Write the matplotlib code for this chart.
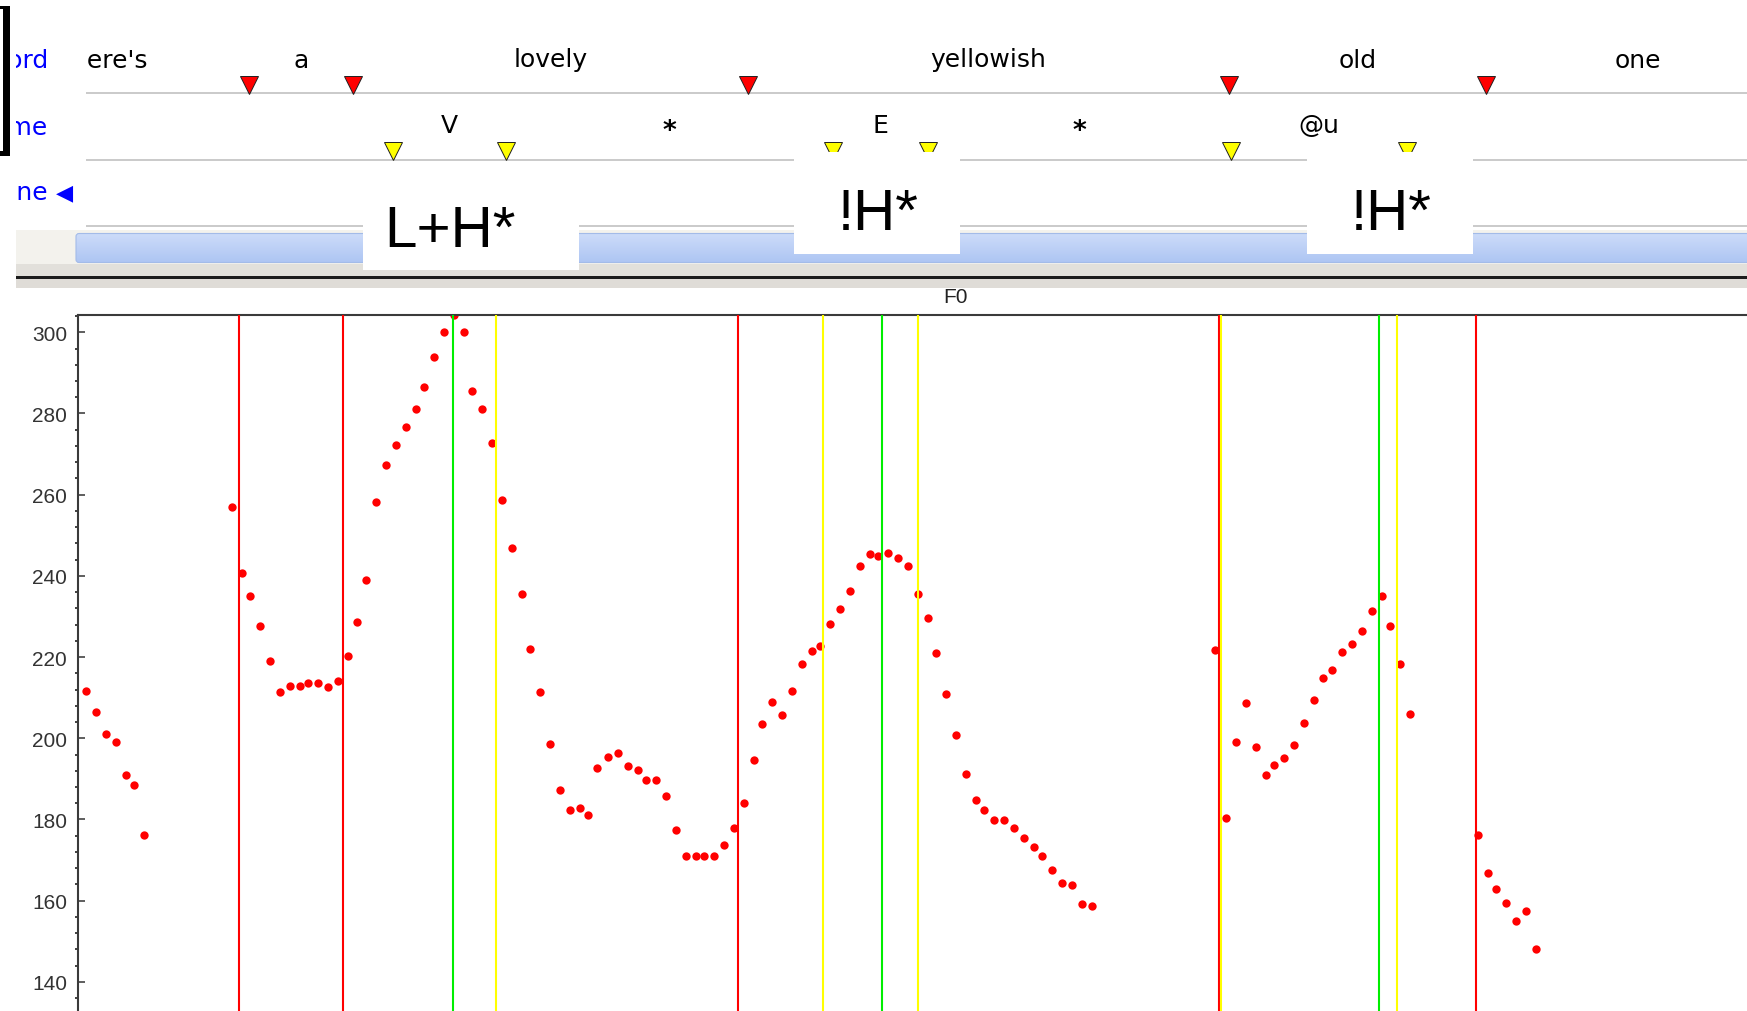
import numpy as np
import matplotlib.pyplot as plt
from matplotlib.colors import LinearSegmentedColormap
from matplotlib.patches import Rectangle, FancyBboxPatch
from matplotlib.ticker import MultipleLocator

plt.rcParams['font.family'] = ['DejaVu Sans']

# F0 track: frame time (ms from left edge of the F0 panel) and pitch (Hz)
f0_ms = [8, 18, 28, 38, 48, 56, 66,
         154, 164, 172, 182, 192, 202, 212, 222, 230, 240, 250, 260, 270, 279,
         288, 298, 308, 318, 328, 338, 346, 356, 366, 376, 386, 394, 404, 414,
         424, 434, 444, 452, 462, 472, 482, 492, 502, 510, 519, 530, 540, 550,
         560, 568, 578, 588, 598, 608, 618, 626, 636, 646, 656, 666, 676, 684,
         694, 704, 714, 724, 734, 742, 752, 762, 772, 782, 792, 800, 810, 820,
         830, 840, 850, 858, 868, 878, 888, 898, 906, 916, 926, 936, 946, 956,
         964, 974, 984, 994, 1004, 1014,
         1137, 1148, 1158, 1168, 1178, 1188, 1196, 1206, 1216, 1226, 1236, 1245,
         1254, 1264, 1274, 1284, 1294, 1304, 1312, 1322, 1332,
         1400, 1410, 1418, 1428, 1438, 1448, 1458]
f0_hz = [211.7, 206.4, 201.1, 199.1, 191.0, 188.5, 176.3,
         257.0, 240.7, 235.1, 227.7, 219.1, 211.3, 213.0, 213.0, 213.5, 213.5, 212.6, 214.2, 220.3, 228.6,
         239.1, 258.3, 267.3, 272.2, 276.7, 281.1, 286.5, 293.8, 300.0, 304.3, 300.0, 285.6, 281.1, 272.7,
         258.7, 246.9, 235.5, 222.0, 211.3, 198.7, 187.3, 182.4, 182.8, 181.2, 192.7, 195.5, 196.3, 193.1,
         192.3, 189.8, 189.8, 185.7, 177.5, 170.9, 170.9, 170.9, 170.9, 173.8, 177.9, 184.1, 194.6, 203.6,
         208.9, 205.7, 211.7, 218.3, 221.4, 222.8, 228.2, 231.8, 236.3, 242.4, 245.3, 244.9, 245.7, 244.5,
         242.4, 235.5, 229.7, 221.1, 210.9, 200.7, 191.3, 184.8, 182.3, 179.9, 179.9, 177.8, 175.4, 173.3,
         170.9, 167.6, 164.4, 163.9, 159.1, 158.7,
         221.7, 180.3, 199.2, 208.6, 197.9, 191.0, 193.4, 195.1, 198.3, 203.7, 209.4, 214.8,
         216.7, 221.2, 223.2, 226.5, 231.4, 235.1, 227.7, 218.3, 206.1,
         176.3, 166.8, 162.8, 159.5, 155.0, 157.5, 148.1]

# annotation tiers (ms)
word_bounds = [-117, 161, 265, 660, 1141, 1398, 1701]
word_labels = ["here's", "a", "lovely", "yellowish", "old", "one"]
phone_bounds = [305, 418, 745, 840, 1143, 1319]
phone_labels = ["V", "*", "E", "*", "@u"]
accent_ms = [375, 804, 1301]
tone_labels = ["L+H*", "!H*", "!H*"]
tone_ms = [362, 790, 1303]
tier_names = ["Word", "Phoneme", "Tone"]

# ---- layout (pixels) ----
W, H = 1747, 1012
PLOT_LEFT, PLOT_TOP = 78, 316
TIER_SHIFT = 10          # the tier panel is scrolled 10 ms against the F0 panel
Y_TOP, Y_BOT = 304.26, 132.83


def px_rect(x0, y0, x1, y1):
    return [x0 / W, 1 - y1 / H, (x1 - x0) / W, (y1 - y0) / H]


fig = plt.figure(figsize=(W / 100, H / 100), dpi=100)
fig.patch.set_facecolor('white')

# window chrome
bg = fig.add_axes([0, 0, 1, 1])
bg.axis('off')
bg.add_patch(Rectangle((0, 6.5), 9.5, 3.6, fc='black', ec='none'))
bg.add_patch(Rectangle((3, 6.5), 6.6, 150, fc='black', ec='none'))
bg.add_patch(Rectangle((0, 152), 9.5, 4.6, fc='black', ec='none'))
bg.add_patch(Rectangle((15.7, 231), W, 34, fc='#f3f2ed', ec='none', zorder=1))
grad = np.linspace(0, 1, 64).reshape(-1, 1)
blue = LinearSegmentedColormap.from_list('bar', ['#ccdbf9', '#adc5f3'])
im = bg.imshow(grad, extent=[76, W + 20, 263.5, 234.5], aspect='auto', cmap=blue, zorder=2)
bar = FancyBboxPatch((76, 234.5), W, 29, boxstyle='round,pad=0,rounding_size=3',
                     fc='none', ec='#a3bbe8', lw=0.8, transform=bg.transData, zorder=3)
bg.add_patch(bar)
im.set_clip_path(bar)
bg.add_patch(Rectangle((15.7, 265), W, 12.2, fc='#e2e0db', ec='none', zorder=1))
bg.add_patch(Rectangle((15.7, 277.2), W, 2.6, fc='#1c1c1c', ec='none', zorder=1))
bg.add_patch(Rectangle((15.7, 279.8), W, 9.5, fc='#dfdcd7', ec='none', zorder=1))
bg.set_xlim(0, W)
bg.set_ylim(H, 0)

# tier names, clipped on the left like the scrolled panel
lab = fig.add_axes(px_rect(15.7, 0, 87, 230))
lab.axis('off')
lab.set_xlim(15.7, 87)
lab.set_ylim(230, 0)
for name, base in zip(tier_names, [68, 135, 200]):
    lab.text(48, base, name, ha='right', va='baseline', fontsize=18,
             color='#0000ff', clip_on=True)
lab.text(56, 199.5, '\u25c0', ha='left', va='baseline', fontsize=16, color='#0000ff')

# annotation tiers
tier = fig.add_axes(px_rect(86, 0, W, 290))
tier.patch.set_alpha(0)
tier.axis('off')
tier.set_xlim(86 - PLOT_LEFT - TIER_SHIFT, W - PLOT_LEFT - TIER_SHIFT)
tier.set_ylim(290, 0)

for y in [94.3, 160.7, 226.7]:
    tier.axhline(y, color='#c6c6c6', lw=1.3, zorder=1)

tier.plot(word_bounds, [85.6] * len(word_bounds), ls='none', marker='v', ms=12.6,
          mfc='#ff0000', mec='#202020', mew=0.7, zorder=2)
tier.plot(phone_bounds, [151.7] * len(phone_bounds), ls='none', marker='v', ms=12.6,
          mfc='#ffff00', mec='#202020', mew=0.7, zorder=2)

for a, b, w in zip(word_bounds[:-1], word_bounds[1:], word_labels):
    tier.text((a + b) / 2, 67.5, w, ha='center', va='baseline', fontsize=18, clip_on=True)
for a, b, p in zip(phone_bounds[:-1], phone_bounds[1:], phone_labels):
    if p == '*':
        tier.text((a + b) / 2, 139, p, ha='center', va='baseline', fontsize=19,
                  fontweight='bold', clip_on=True)
    else:
        tier.text((a + b) / 2, 133, p, ha='center', va='baseline', fontsize=18, clip_on=True)

# pasted tone labels on white boxes
tone_box = [(-87, 129, 170, 271), (-84, 82, 153, 255), (-84, 82, 153, 255)]
tone_base = [246.7, 230, 230]
for t, lbl, (l, r, top, bot), base in zip(tone_ms, tone_labels, tone_box, tone_base):
    tier.add_patch(Rectangle((t + l, top), r - l, bot - top, fc='white', ec='none',
                             zorder=4, clip_on=False))
    tier.text(t, base, lbl, ha='center', va='baseline', fontsize=42,
              family='Liberation Sans', zorder=5)

# F0 panel
ax = fig.add_axes(px_rect(PLOT_LEFT, PLOT_TOP, W, H))
ax.set_xlim(0, W - PLOT_LEFT)
ax.set_ylim(Y_BOT, Y_TOP)
ax.plot(f0_ms, f0_hz, ls='none', marker='o', ms=6, mfc='#ff0000', mec='none', zorder=2)
for t in word_bounds:
    ax.axvline(t, color='#ff0000', lw=1.5, zorder=3)
for t in phone_bounds[1:]:   # V onset is not marked in the F0 panel
    ax.axvline(t, color='#ffff00', lw=1.5, zorder=3)
for t in accent_ms:
    ax.axvline(t, color='#00ee00', lw=1.5, zorder=3)

for side in ['right', 'bottom']:
    ax.spines[side].set_visible(False)
for side in ['top', 'left']:
    ax.spines[side].set_color('#3a3a3a')
    ax.spines[side].set_linewidth(1.5)
ax.set_xticks([])
ax.set_yticks(range(140, 301, 20))
ax.yaxis.set_minor_locator(MultipleLocator(4))
ax.tick_params(axis='y', which='major', direction='in', length=5, width=1.1,
               color='#333333', labelsize=15, pad=8, labelcolor='#333333',
               labelfontfamily='Liberation Sans')
ax.tick_params(axis='y', which='minor', direction='out', length=2, width=1.3,
               color='#333333')

fig.text(955.4 / W, 1 - 297.5 / H, 'F0', ha='center', va='center', fontsize=15,
         family='Liberation Sans', color='#222222')

fig.savefig('out.png', dpi=100)
